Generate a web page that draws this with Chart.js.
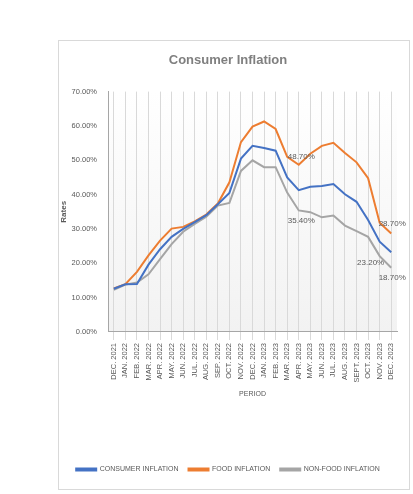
<!DOCTYPE html><html><head><script src="https://cdn.jsdelivr.net/npm/chart.js"></script>
<style>body{margin:0;background:#fff}#w{position:absolute;left:58px;top:40px;width:352px;height:450px;border:1px solid #d9d9d9;box-sizing:border-box}</style></head><body>
<div id="w"><canvas id="c"></canvas></div>
<script>
const categories=["DEC. 2021","JAN. 2022","FEB. 2022","MAR. 2022","APR. 2022","MAY. 2022","JUN. 2022","JUL. 2022","AUG. 2022","SEP. 2022","OCT. 2022","NOV. 2022","DEC. 2022","JAN. 2023","FEB. 2023","MAR. 2023","APR. 2023","MAY. 2023","JUN. 2023","JUL. 2023","AUG. 2023","SEPT. 2023","OCT. 2023","NOV. 2023","DEC. 2023"];
const consumer=[12.6,13.9,14.0,19.6,24.1,27.7,30.0,32.0,34.0,37.2,40.5,50.5,54.2,53.6,52.8,45.0,41.3,42.3,42.5,43.1,40.1,37.9,32.6,26.3,23.2];
const food=[12.7,13.9,17.5,22.3,26.6,30.1,30.6,32.2,34.2,37.4,43.6,55.3,59.8,61.3,59.1,51.0,48.7,51.9,54.2,55.1,52.1,49.4,44.8,31.8,28.7];
const nonfood=[12.3,13.8,14.4,16.8,21.2,25.6,29.2,31.5,33.6,36.8,37.6,46.9,50.0,48.0,48.0,40.6,35.4,34.9,33.4,33.9,31.0,29.4,27.7,22.1,18.7];
const labelPoints=[[1,16],[2,16],[1,24],[0,24],[2,24]];
const c=document.getElementById('c');c.width=350;c.height=448;
const plug={id:'p',beforeDraw(ch){const a=ch.chartArea,x=ch.ctx;const g=x.createLinearGradient(0,a.top,0,a.bottom);g.addColorStop(0,'#ffffff');g.addColorStop(1,'#f2f2f2');x.fillStyle=g;x.fillRect(a.left,a.top,a.right-a.left,a.bottom-a.top);},
afterDatasetsDraw(ch){const x=ch.ctx;x.font='8px "Liberation Sans"';x.fillStyle='#595959';x.textBaseline='middle';
labelPoints.forEach(([d,i])=>{const p=ch.getDatasetMeta(d).data[i];const v=ch.data.datasets[d].data[i].toFixed(2)+'%';
if(i===16){x.textAlign='left';x.fillText(v,p.x-11,p.y+(d===1?-8:10));}
else if(d===0){x.textAlign='right';x.fillText(v,p.x-7,p.y+10);}
else{x.textAlign='center';x.fillText(v,p.x+1,p.y+(d===1?-10:10));}});}};
new Chart(c,{type:'line',data:{labels:categories,datasets:[
{label:'CONSUMER INFLATION',data:consumer,borderColor:'#4472c4',backgroundColor:'#4472c4'},
{label:'FOOD INFLATION',data:food,borderColor:'#ed7d31',backgroundColor:'#ed7d31'},
{label:'NON-FOOD INFLATION',data:nonfood,borderColor:'#a5a5a5',backgroundColor:'#a5a5a5'}]},
options:{responsive:false,animation:false,elements:{point:{radius:0},line:{borderWidth:2,tension:0}},
layout:{padding:{left:0,right:12,top:4,bottom:6}},
plugins:{title:{display:true,text:'Consumer Inflation',color:'#7f7f7f',font:{size:13,weight:'bold',family:'Liberation Sans'},padding:{top:8,bottom:23}},
legend:{position:'bottom',labels:{boxWidth:20,boxHeight:2,color:'#595959',font:{size:7,family:'Liberation Sans'},padding:10}},tooltip:{enabled:false}},
scales:{x:{offset:true,grid:{display:true,color:'#d9d9d9',offset:false},border:{color:'#a6a6a6'},ticks:{color:'#595959',font:{size:7.5,family:'Liberation Sans'},maxRotation:90,minRotation:90,autoSkip:false},title:{display:true,text:'PERIOD',color:'#595959',font:{size:7,family:'Liberation Sans'},padding:{top:4,bottom:58}}},
y:{min:0,max:70,grid:{display:false},border:{color:'#a6a6a6'},ticks:{stepSize:10,color:'#595959',font:{size:7.5,family:'Liberation Sans'},callback:v=>v.toFixed(2)+'%'},title:{display:true,text:'Rates',color:'#595959',font:{size:8,weight:'bold',family:'Liberation Sans'},padding:0}}}},plugins:[plug]});
</script></body></html>
